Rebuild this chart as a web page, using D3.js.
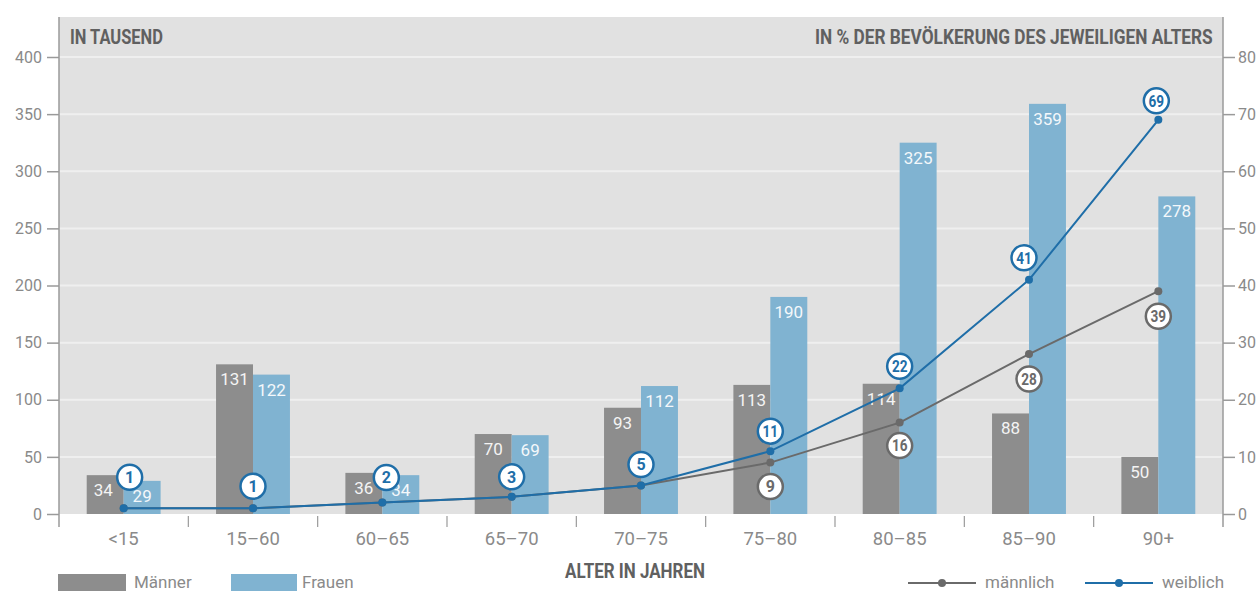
<!DOCTYPE html>
<html>
<head>
<meta charset="utf-8">
<script src="https://cdn.jsdelivr.net/npm/d3@7"></script>
<style>
  html, body { margin: 0; padding: 0; background: #ffffff; }
  svg { display: block; font-family: "Roboto", "Liberation Sans", sans-serif; }
</style>
</head>
<body>
<svg id="chart" width="1257" height="592"></svg>
<script>
// ---- data ----
const categories = ["<15", "15–60", "60–65", "65–70", "70–75", "75–80", "80–85", "85–90", "90+"];
const maenner = [34, 131, 36, 70, 93, 113, 114, 88, 50];          // in Tausend
const frauen = [29, 122, 34, 69, 112, 190, 325, 359, 278];         // in Tausend
const maennlichPct = [1, 1, 2, 3, 5, 9, 16, 28, 39];               // in % der Bevölkerung
const weiblichPct = [1, 1, 2, 3, 5, 11, 22, 41, 69];               // in % der Bevölkerung
const leftTicks = [0, 50, 100, 150, 200, 250, 300, 350, 400];
const rightTicks = [0, 10, 20, 30, 40, 50, 60, 70, 80];
const showMaleLabel = [false, false, false, false, false, true, true, true, true];

// ---- layout ----
const L = 59, R = 1223, T = 17, B = 514;
const colMale = "#8d8d8d", colFemale = "#80b3d1";
const colLineM = "#6a6a6a", colLineW = "#1f6ea8";
const colText = "#8a8a8a", colTitle = "#606060";

const svg = d3.select("#chart");

const x = d3.scaleBand().domain(categories).range([L, R]).padding(0);
const xs = d3.scaleBand().domain(["m", "f"]).range([0, x.bandwidth()]).paddingInner(0).paddingOuter(0.75);
const y = d3.scaleLinear().domain([0, 400]).range([B, 57]);
const y2 = d3.scaleLinear().domain([0, 80]).range([B, 57]);
const cx = c => x(c) + x.bandwidth() / 2;

// helper: text squeezed horizontally to a target width (condensed look)
function fitText(tx, ty, str, size, width, anchor) {
  const t = svg.append("text").attr("font-size", size).attr("font-weight", "bold")
    .attr("fill", colTitle).text(str);
  const w = t.node().getComputedTextLength();
  const s = width / w;
  let x0 = tx;
  if (anchor === "middle") x0 = tx - width / 2;
  t.attr("transform", `translate(${x0},${ty}) scale(${s},1)`);
  return t;
}

// background
svg.append("rect").attr("x", L).attr("y", T).attr("width", R - L).attr("height", B - T).attr("fill", "#e1e1e1");

// gridlines
svg.append("g").selectAll("line").data(leftTicks.filter(d => d > 0)).join("line")
  .attr("x1", L).attr("x2", R).attr("y1", d => y(d)).attr("y2", d => y(d))
  .attr("stroke", "#efefef").attr("stroke-width", 2);

// titles
fitText(70, 44, "IN TAUSEND", 20, 93, "start");
fitText(815, 44, "IN % DER BEVÖLKERUNG DES JEWEILIGEN ALTERS", 20, 398, "start");

// bars
const groups = svg.append("g").selectAll("g").data(categories).join("g")
  .attr("transform", d => `translate(${x(d)},0)`);
groups.append("rect").attr("x", xs("m")).attr("width", xs.bandwidth())
  .attr("y", (d, i) => y(maenner[i])).attr("height", (d, i) => B - y(maenner[i])).attr("fill", colMale);
groups.append("rect").attr("x", xs("f")).attr("width", xs.bandwidth())
  .attr("y", (d, i) => y(frauen[i])).attr("height", (d, i) => B - y(frauen[i])).attr("fill", colFemale);
groups.append("text").attr("x", (d, i) => xs("m") + xs.bandwidth() / 2 - (i === 0 ? 2 : 0)).attr("y", (d, i) => y(maenner[i]) + 21)
  .attr("text-anchor", "middle").attr("font-size", 17).attr("fill", "#f4f4f4").text((d, i) => maenner[i]);
groups.append("text").attr("x", xs("f") + xs.bandwidth() / 2).attr("y", (d, i) => y(frauen[i]) + 21)
  .attr("text-anchor", "middle").attr("font-size", 17).attr("fill", "#f4f8fb").text((d, i) => frauen[i]);

// axes
const axL = svg.append("g").attr("transform", `translate(${L},0)`)
  .call(d3.axisLeft(y).tickValues(leftTicks).tickSize(12).tickPadding(5));
const axR = svg.append("g").attr("transform", `translate(${R},0)`)
  .call(d3.axisRight(y2).tickValues(rightTicks).tickSize(12).tickPadding(3));
[axL, axR].forEach(a => {
  a.select(".domain").remove();
  a.selectAll(".tick line").attr("stroke", "#9a9a9a").attr("stroke-width", 1.5);
  a.selectAll(".tick text").attr("fill", colText).attr("font-size", 16).attr("font-family", "Roboto, sans-serif");
});
svg.append("line").attr("x1", L).attr("x2", L).attr("y1", T).attr("y2", 527).attr("stroke", "#9a9a9a").attr("stroke-width", 1.5);
svg.append("line").attr("x1", R).attr("x2", R).attr("y1", T).attr("y2", 527).attr("stroke", "#9a9a9a").attr("stroke-width", 1.5);

// category boundary ticks
svg.append("g").selectAll("line").data(categories.slice(1)).join("line")
  .attr("x1", d => x(d)).attr("x2", d => x(d)).attr("y1", 516).attr("y2", 527)
  .attr("stroke", "#9a9a9a").attr("stroke-width", 1.2);

// x axis labels
const axB = svg.append("g").attr("transform", `translate(0,${B})`)
  .call(d3.axisBottom(x).tickSize(0).tickPadding(18));
axB.select(".domain").remove();
axB.selectAll(".tick text").attr("fill", colText).attr("font-size", 18.5).attr("font-family", "Roboto, sans-serif");

fitText(635, 578, "ALTER IN JAHREN", 20, 140, "middle");

// lines
const line = arr => d3.line().x((d, i) => cx(categories[i])).y(d => y2(d))(arr);
svg.append("path").attr("d", line(maennlichPct)).attr("fill", "none").attr("stroke", colLineM).attr("stroke-width", 2);
svg.append("g").selectAll("circle").data(maennlichPct).join("circle")
  .attr("cx", (d, i) => cx(categories[i])).attr("cy", d => y2(d)).attr("r", 4).attr("fill", colLineM);
svg.append("path").attr("d", line(weiblichPct)).attr("fill", "none").attr("stroke", colLineW).attr("stroke-width", 2);
svg.append("g").selectAll("circle").data(weiblichPct).join("circle")
  .attr("cx", (d, i) => cx(categories[i])).attr("cy", d => y2(d)).attr("r", 4).attr("fill", colLineW);

// value bubbles
const wOff = [[6, -31], [0, -22], [4, -25], [0, -20], [0, -21], [0, -20], [0, -22], [-5, -22], [-2, -19]];
const mOff = [[0, 22], [0, 22], [0, 22], [0, 22], [0, 22], [0, 24], [0, 23], [0, 25], [0, 25]];
function bubbles(vals, offs, col, show) {
  const items = vals.map((v, i) => ({ v, i })).filter(o => show[o.i]);
  const g = svg.append("g").selectAll("g").data(items).join("g")
    .attr("transform", o => `translate(${cx(categories[o.i]) + offs[o.i][0]},${y2(o.v) + offs[o.i][1]})`);
  g.append("circle").attr("r", 12.5).attr("fill", "#ffffff").attr("stroke", col).attr("stroke-width", 2.5);
  g.append("text").attr("text-anchor", "middle").attr("dy", "0.36em").attr("font-size", 16)
    .attr("font-weight", "bold").attr("fill", col)
    .attr("transform", o => String(o.v).length > 1 ? "scale(0.85,1)" : null)
    .text(o => o.v);
}
bubbles(maennlichPct, mOff, colLineM, showMaleLabel);
bubbles(weiblichPct, wOff, colLineW, categories.map(() => true));

// legend
svg.append("rect").attr("x", 58).attr("y", 574).attr("width", 68).attr("height", 17).attr("fill", colMale);
svg.append("text").attr("x", 134).attr("y", 588).attr("font-size", 17).attr("fill", colText).text("Männer");
svg.append("rect").attr("x", 231).attr("y", 574).attr("width", 66).attr("height", 17).attr("fill", colFemale);
svg.append("text").attr("x", 302).attr("y", 588).attr("font-size", 17).attr("fill", colText).text("Frauen");

const leg = [[908, colLineM, "männlich"], [1085, colLineW, "weiblich"]];
leg.forEach(([lx, col, label]) => {
  svg.append("line").attr("x1", lx).attr("x2", lx + 68).attr("y1", 583).attr("y2", 583).attr("stroke", col).attr("stroke-width", 2);
  svg.append("circle").attr("cx", lx + 34).attr("cy", 583).attr("r", 4).attr("fill", col);
  svg.append("text").attr("x", lx + 77).attr("y", 588).attr("font-size", 17).attr("fill", colText).text(label);
});
</script>
</body>
</html>
